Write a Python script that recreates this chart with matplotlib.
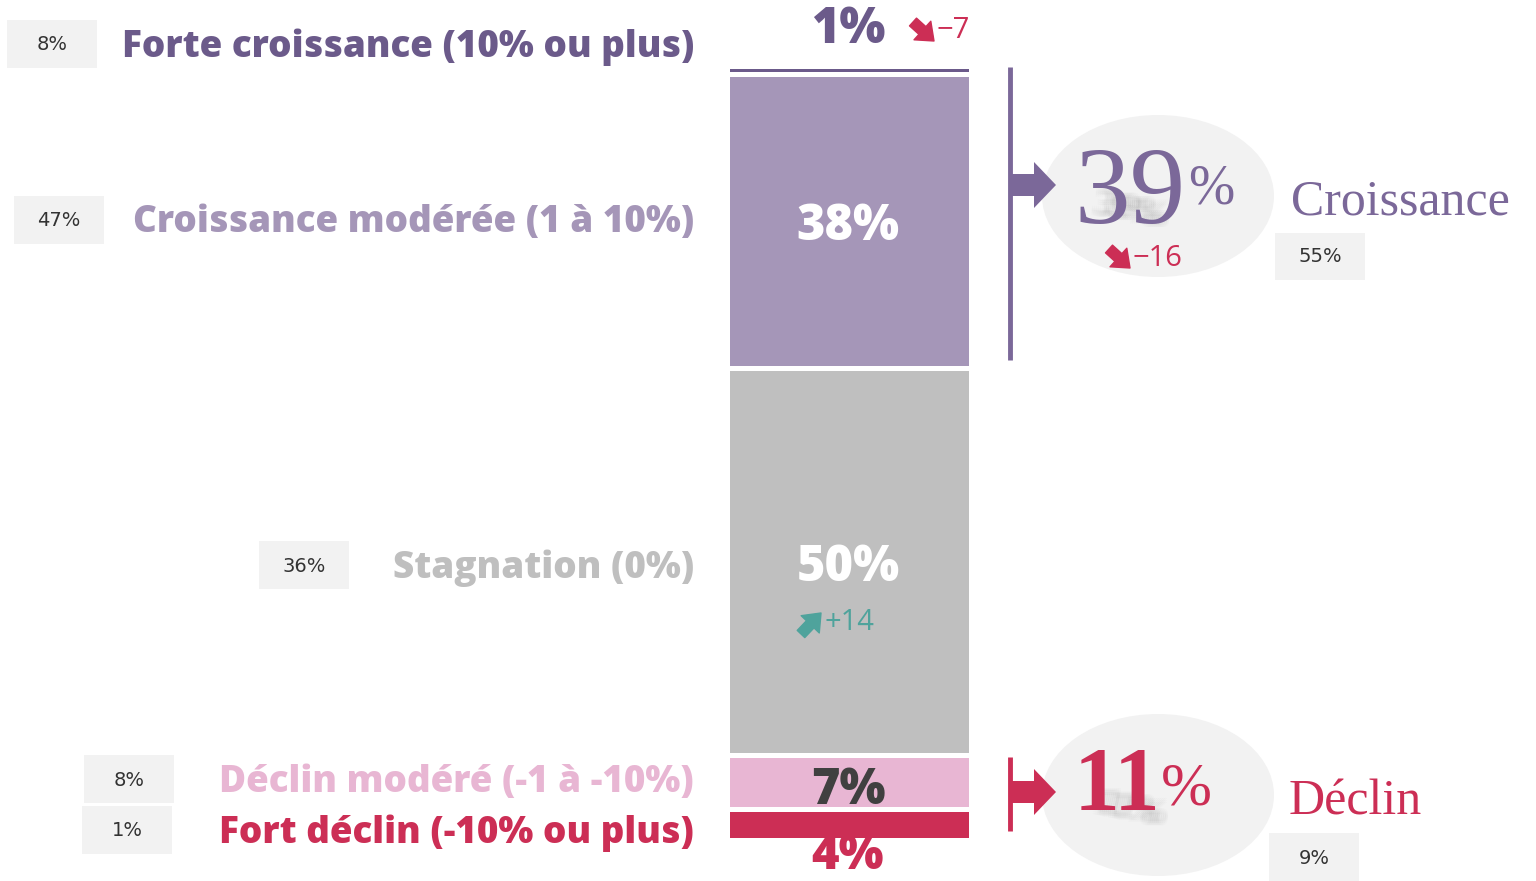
import numpy as np
import matplotlib
matplotlib.use('Agg')
import matplotlib.pyplot as plt
import matplotlib.patches as mpatches

# Data
categories = ['Forte croissance (10% ou plus)', 'Croissance modérée (1 à 10%)',
              'Stagnation (0%)', 'Déclin modéré (-1 à -10%)', 'Fort déclin (-10% ou plus)']
values = [1, 38, 50, 7, 4]
previous = [8, 47, 36, 8, 1]
groups = ['Croissance', 'Déclin']
group_values = [39, 11]
group_previous = [55, 9]
change_forte = -7
change_croissance = -16
change_stagnation = 14

# Colors
DARK_PURPLE = '#6b5a8a'
PURPLE = '#a596b8'
BRACKET = '#7b6899'
GREY = '#bfbfbf'
PINK = '#e8b6d3'
RED = '#cc2e55'
TEAL = '#4fa39c'
BOX = '#f2f2f2'
BOXTXT = '#333333'
colors = [DARK_PURPLE, PURPLE, GREY, PINK, RED]
label_colors = [DARK_PURPLE, PURPLE, GREY, PINK, RED]

SANS = 'Open Sans'
SERIF = 'Liberation Serif'

W, H = 1536, 881
fig = plt.figure(figsize=(W / 100, H / 100), dpi=100, facecolor='white')

# stacked bar, 0-100 from top
bar_top, bar_bot = 66, 840
bax = fig.add_axes([727 / W, 1 - bar_bot / H, 244 / W, (bar_bot - bar_top) / H])
bottoms = np.concatenate([[0], np.cumsum(values)[:-1]])
bax.bar(0, values, bottom=bottoms, width=1.0, color=colors, edgecolor='white', linewidth=3.6)
bax.set_xlim(-0.5, 0.5)
bax.set_ylim(100, 0)
bax.axis('off')

# overlay axes in pixel coordinates
ax = fig.add_axes([0, 0, 1, 1])
ax.set_xlim(0, W)
ax.set_ylim(H, 0)
ax.axis('off')
ax.patch.set_alpha(0)

# left labels + previous value boxes
label_y = [44, 220, 565, 779, 830]
box_x = [7, 14, 259, 84, 82]
for cat, prev, col, y, bx in zip(categories, previous, label_colors, label_y, box_x):
    ax.text(694, y + 3, cat, ha='right', va='center', fontsize=26.6, fontweight='heavy',
            family=SANS, color=col)
    ax.add_patch(mpatches.Rectangle((bx, y - 24), 90, 48, color=BOX, lw=0))
    ax.text(bx + 45, y + 1, f'{prev}%', ha='center', va='center', fontsize=14,
            family='DejaVu Sans', color=BOXTXT)


def small_arrow(x0, y0, x1, y1, col):
    ax.annotate('', xy=(x1, y1), xytext=(x0, y0),
                arrowprops=dict(arrowstyle='simple,head_width=1.2,head_length=0.75,tail_width=0.5',
                                color=col, mutation_scale=15, shrinkA=0, shrinkB=0))


def shadow(x, y, txt, size):
    # soft blurred smear under the big numbers
    for dx in range(-8, 9, 2):
        for dy in (-2, 0, 2):
            ax.text(x + dx, y + dy, txt, ha='center', va='center', fontsize=size,
                    family=SERIF, color='#444444', alpha=0.018, rotation=-12)


# values on the bar
ax.text(848, 30, f'{values[0]}%', ha='center', va='center', fontsize=35, fontweight='heavy',
        family=SANS, color=DARK_PURPLE)
small_arrow(913, 22, 934, 41, RED)
ax.text(937, 31, f'{change_forte}'.replace('-', '−'), ha='left', va='center', fontsize=21,
        family=SANS, color=RED)

mid = lambda i: bar_top + (bottoms[i] + values[i] / 2) / 100 * (bar_bot - bar_top)
ax.text(848, mid(1) + 6, f'{values[1]}%', ha='center', va='center', fontsize=35,
        fontweight='heavy', family=SANS, color='white')
ax.text(848, mid(2) + 7, f'{values[2]}%', ha='center', va='center', fontsize=35,
        fontweight='heavy', family=SANS, color='white')
small_arrow(801, 634, 821, 613, TEAL)
ax.text(825, 623, f'+{change_stagnation}', ha='left', va='center', fontsize=21,
        family=SANS, color=TEAL)
ax.text(848, 791, f'{values[3]}%', ha='center', va='center', fontsize=35,
        fontweight='heavy', family=SANS, color='#404040')
ax.text(848, 857, f'{values[4]}%', ha='center', va='center', fontsize=34,
        fontweight='heavy', family=SANS, color=RED)

# group circles (drawn under the bracket arrows)
for cy in [196, 795]:
    ax.add_patch(mpatches.Ellipse((1158, cy), 232, 162, color=BOX, lw=0, zorder=1))


# brackets with block arrows
def bracket(y0, y1, ya, col):
    ax.plot([1010, 1010], [y0, y1], color=col, lw=3.5, solid_capstyle='butt', zorder=3)
    ax.add_patch(mpatches.FancyArrow(1010, ya, 46, 0, width=22, head_width=46, head_length=22,
                                     length_includes_head=True, color=col, lw=0, zorder=3))


bracket(67, 360, 185, BRACKET)
bracket(757, 831, 792, RED)

shadow(1130, 212, '39%', 26)
shadow(1130, 810, '11%', 26)

ax.text(1186, 196, f'{group_values[0]}', ha='right', va='center', fontsize=80,
        family=SERIF, color=BRACKET, zorder=4)
ax.text(1188, 190, '%', ha='left', va='center', fontsize=40, family=SERIF, color=BRACKET,
        zorder=4)
ax.text(1160, 788, f'{group_values[1]}', ha='right', va='center', fontsize=66,
        family=SERIF, fontweight='bold', color=RED, zorder=4)
ax.text(1161, 790, '%', ha='left', va='center', fontsize=44, family=SERIF, color=RED,
        zorder=4)

small_arrow(1109, 249, 1130, 268, RED)
ax.text(1133, 259, f'{change_croissance}'.replace('-', '−'), ha='left', va='center',
        fontsize=21, family=SANS, color=RED, zorder=4)

ax.text(1291, 202, groups[0], ha='left', va='center', fontsize=36, family=SERIF, color=BRACKET)
ax.add_patch(mpatches.Rectangle((1275, 233), 90, 47, color=BOX, lw=0))
ax.text(1320, 257, f'{group_previous[0]}%', ha='center', va='center', fontsize=14,
        family='DejaVu Sans', color=BOXTXT)

ax.text(1289, 802, groups[1], ha='left', va='center', fontsize=36, family=SERIF, color=RED)
ax.add_patch(mpatches.Rectangle((1269, 833), 90, 48, color=BOX, lw=0))
ax.text(1314, 858, f'{group_previous[1]}%', ha='center', va='center', fontsize=14,
        family='DejaVu Sans', color=BOXTXT)

fig.savefig('out.png', dpi=100, facecolor='white')
